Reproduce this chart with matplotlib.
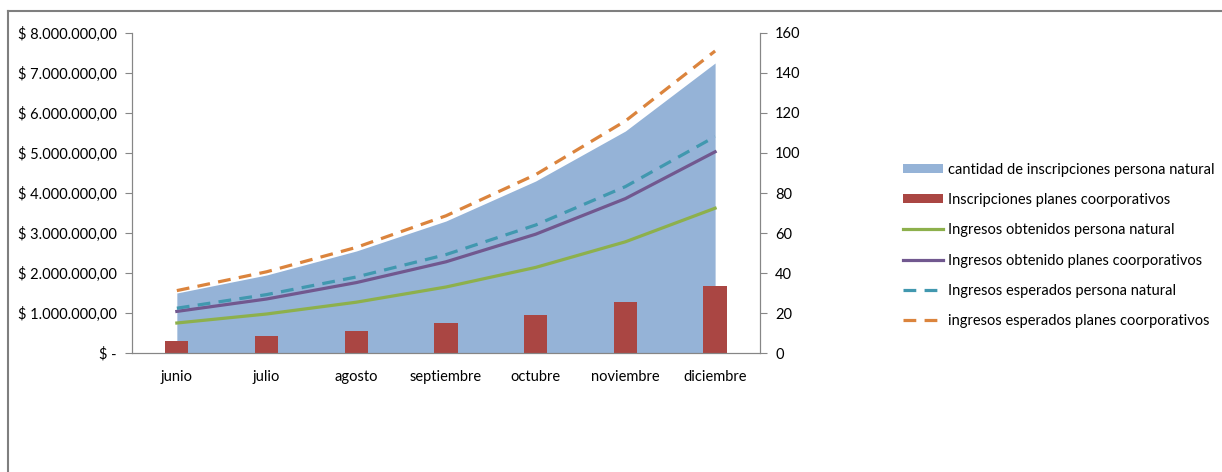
import numpy as np
import matplotlib
matplotlib.use("Agg")
import matplotlib.pyplot as plt
from matplotlib.lines import Line2D
from matplotlib.patches import Patch

plt.rcParams['font.family'] = ['Lato', 'DejaVu Sans']
plt.rcParams['font.size'] = 10.5

meses = ["junio", "julio", "agosto", "septiembre", "octubre", "noviembre", "diciembre"]

# cantidades (eje derecho)
inscripciones_natural = [30, 39, 51, 66, 86, 111, 145]
inscripciones_corp = [6.2, 8.5, 11, 14.8, 19.2, 25.5, 33.3]

# ingresos en pesos (eje izquierdo)
ingresos_obt_natural = [750000, 975000, 1270000, 1650000, 2140000, 2780000, 3620000]
ingresos_obt_corp = [1040000, 1350000, 1760000, 2280000, 2970000, 3860000, 5030000]
ingresos_esp_natural = [1120000, 1460000, 1900000, 2460000, 3200000, 4160000, 5410000]
ingresos_esp_corp = [1560000, 2030000, 2640000, 3430000, 4460000, 5800000, 7550000]

c_area = "#95B3D7"
c_bar = "#AA4643"
c_green = "#8DB04C"
c_purple = "#71588F"
c_teal = "#4198AF"
c_orange = "#DB843D"
c_axis = "#868686"

fig = plt.figure(figsize=(12.22, 4.72), dpi=100)
ax = fig.add_axes([0.108, 0.2521, 0.5139, 0.678])
ax2 = ax.twinx()
ax.set_zorder(ax2.get_zorder() + 1)
ax.patch.set_visible(False)

x = np.arange(len(meses))

# area + barras en el eje de cantidades
ax2.fill_between(x, 0, inscripciones_natural, color=c_area, lw=0)
ax2.bar(x, inscripciones_corp, width=0.26, color=c_bar)
ax2.set_ylim(0, 160)
ax2.set_yticks(range(0, 161, 20))

# lineas de ingresos
lw = 2.3
dash = (4, 2.6)
ax.plot(x, ingresos_obt_natural, color=c_green, lw=lw)
ax.plot(x, ingresos_obt_corp, color=c_purple, lw=lw)
ax.plot(x, ingresos_esp_natural, color=c_teal, lw=lw, dashes=dash)
ax.plot(x, ingresos_esp_corp, color=c_orange, lw=lw, dashes=dash)
ax.set_ylim(0, 8000000)
ax.set_xlim(-0.5, 6.5)
ax.set_yticks(np.arange(0, 8000001, 1000000))


def pesos(v, pos=None):
    if v == 0:
        return "$ -"
    s = f"{v:,.2f}".replace(",", "X").replace(".", ",").replace("X", ".")
    return "$ " + s


ax.yaxis.set_major_formatter(plt.FuncFormatter(pesos))
ax.set_xticks(x)
ax.set_xticklabels(meses)

for a in (ax, ax2):
    a.spines['top'].set_visible(False)
    for s in ('left', 'right', 'bottom'):
        a.spines[s].set_color(c_axis)
    a.tick_params(axis='y', colors=c_axis, labelcolor='black', length=5, pad=6, labelsize=10.5)
    a.tick_params(axis='x', length=0, pad=12, labelsize=10.5)

# leyenda
handles = [
    Patch(facecolor=c_area, label="cantidad de inscripciones persona natural"),
    Patch(facecolor=c_bar, label="Inscripciones planes coorporativos"),
    Line2D([], [], color=c_green, lw=lw, label="Ingresos obtenidos persona natural"),
    Line2D([], [], color=c_purple, lw=lw, label="Ingresos obtenido planes coorporativos"),
    Line2D([], [], color=c_teal, lw=lw, dashes=dash, label="Ingresos esperados persona natural"),
    Line2D([], [], color=c_orange, lw=lw, dashes=dash, label="ingresos esperados planes coorporativos"),
]
fig.legend(handles=handles, loc='center left', bbox_to_anchor=(0.728, 0.48),
           frameon=False, handlelength=2.75, handleheight=0.55, handletextpad=0.35,
           labelspacing=1.12, fontsize=10.5)

# marco del grafico
fig.add_artist(Line2D([0.0066, 0.0066], [0, 0.977], color="#7F7F7F", lw=1.5, transform=fig.transFigure))
fig.add_artist(Line2D([0.0066, 1.0], [0.977, 0.977], color="#7F7F7F", lw=1.5, transform=fig.transFigure))

fig.savefig("out.png", dpi=100)
